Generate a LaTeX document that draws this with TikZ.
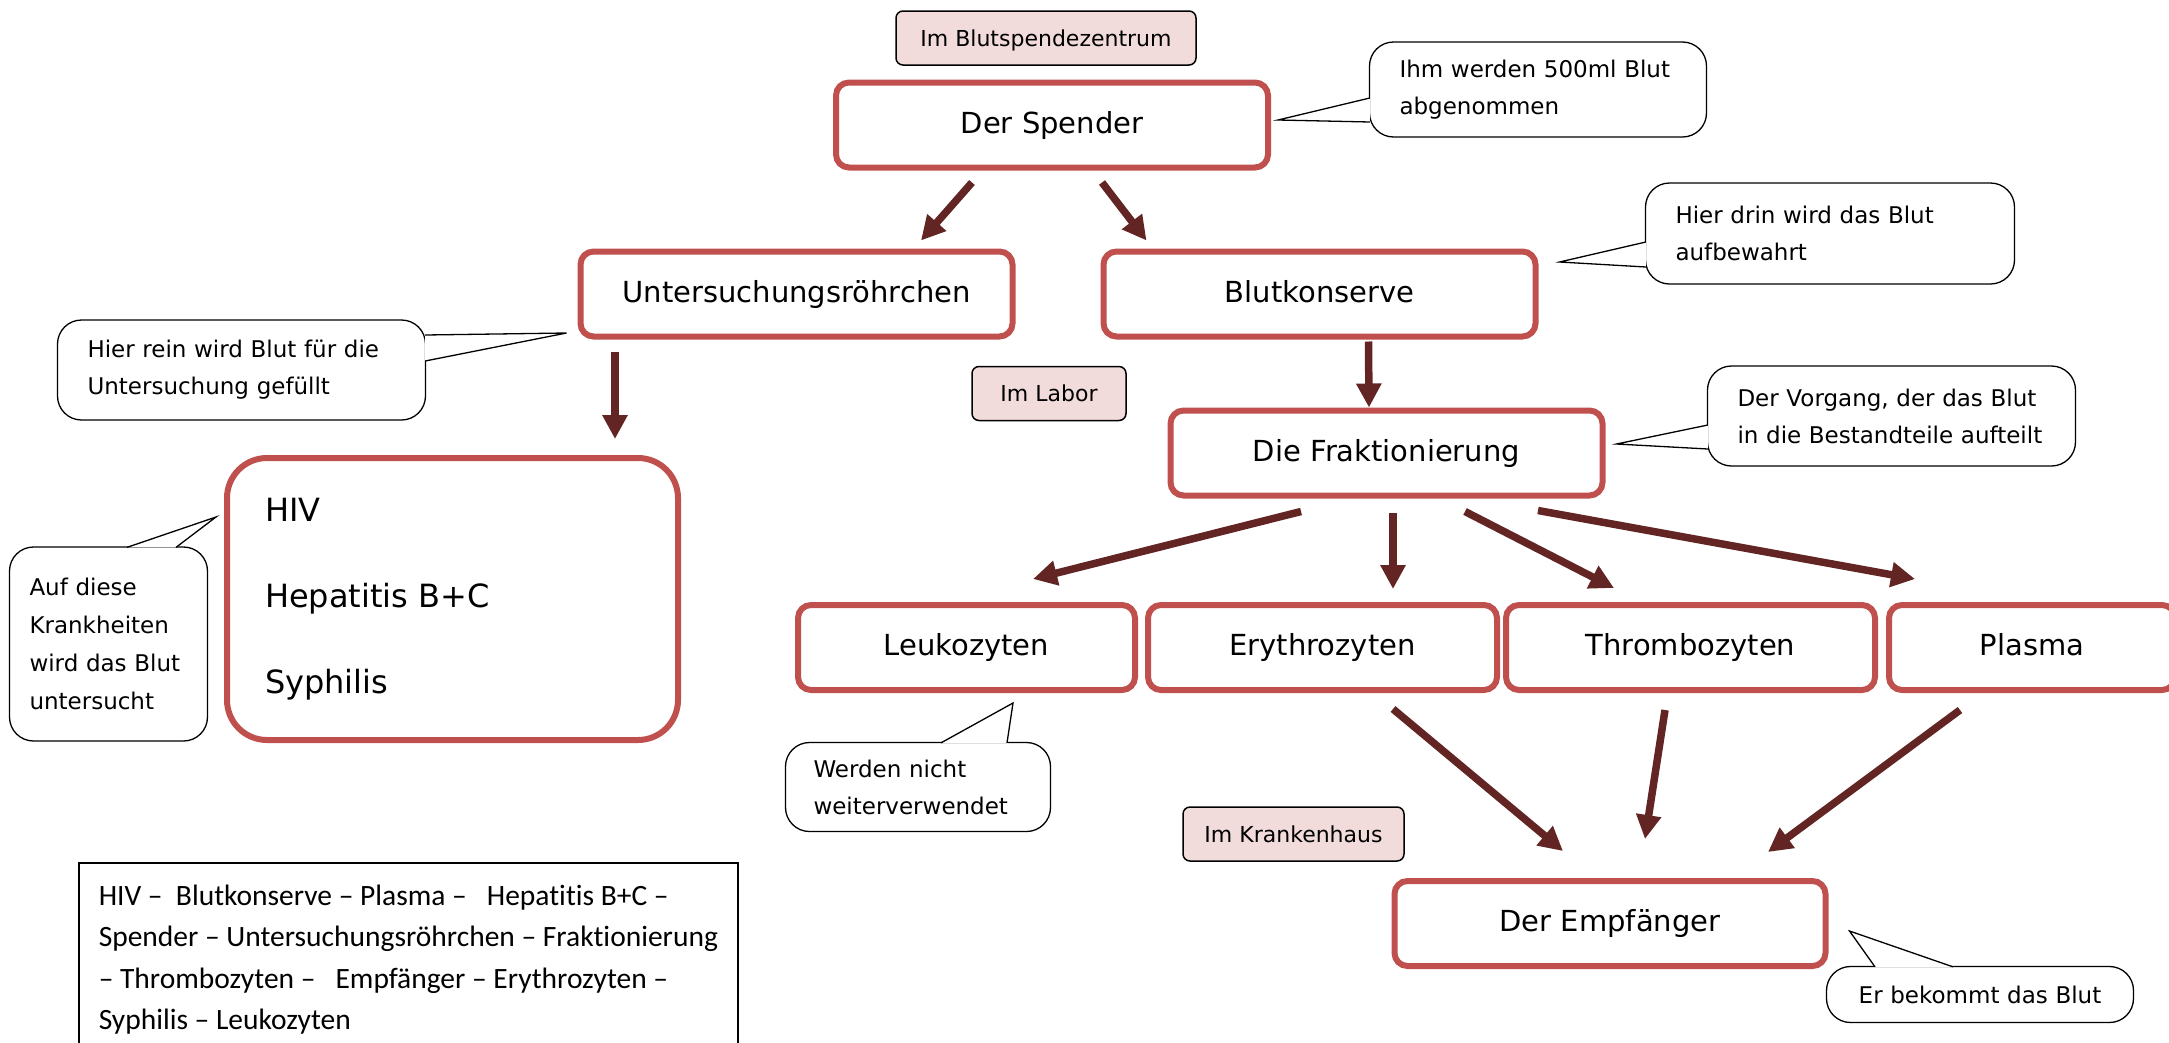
\documentclass[tikz,border=0pt]{standalone}
\usepackage{fontspec}
\setmainfont{DejaVu Sans}
\newfontfamily\listfont[Ligatures=NoCommon]{Carlito}
\usepackage{xcolor}
\usepackage{tikz}
\usetikzlibrary{arrows.meta, positioning, calc}

\definecolor{boxred}{HTML}{C0504D}
\definecolor{arrowred}{HTML}{632523}
\definecolor{placepink}{HTML}{F2DCDB}

\begin{document}
\begin{tikzpicture}[x=1pt, y=-1pt,
    redbox/.style={draw=boxred, line width=6pt, rounded corners=13pt, fill=white},
    stage/.style={redbox, minimum height=85pt, text height=22pt, text depth=6pt, font=\fontsize{29}{35}\selectfont},
    place/.style={draw=black, line width=1.5pt, rounded corners=7pt, fill=placepink, minimum height=54pt, text height=20pt, text depth=4pt, font=\fontsize{22}{26}\selectfont},
    note/.style={draw=black, line width=1.3pt, rounded corners=24pt, fill=white, align=left, inner xsep=30pt, font=\fontsize{23}{37}\selectfont},
    tail/.style={draw=black, line width=1.3pt, fill=white},
    flow/.style={draw=arrowred, line width=7.5pt, -{Triangle[width=24pt, length=24pt]}}]
    \useasboundingbox (0,0) rectangle (2169,1042);

    % Blutspendezentrum
    \node [place, minimum width=300pt] (zentrum) at (1046,38) {Im Blutspendezentrum};
    \node [stage, minimum width=432pt] (spender) at (1052,125) {Der Spender};
    \node [note, text width=277pt, minimum height=95pt] (c500) at (1538,89.5) {Ihm werden 500ml Blut\\abgenommen};

    % Untersuchung
    \node [stage, minimum width=432pt] (unters) at (796.5,294) {Untersuchungsröhrchen};
    \node [stage, minimum width=432pt, right=85pt of unters] (blutk) {Blutkonserve};
    \node [note, text width=308pt, minimum height=100pt] (crein) at (241.5,370) {Hier rein wird Blut für die\\Untersuchung gefüllt};
    \node [redbox, minimum width=451pt, minimum height=282pt, rounded corners=40pt, align=left, text width=375pt, inner xsep=38pt, font=\fontsize{32}{86}\selectfont] (krank) at (452.5,599) {HIV\\Hepatitis B+C\\Syphilis};
    \node [note, text width=158pt, inner xsep=20pt, minimum height=194pt, font=\fontsize{23}{38}\selectfont] (cauf) at (108.5,644) {Auf diese\\Krankheiten\\wird das Blut\\untersucht};

    % Labor
    \node [place, minimum width=154pt] (labor) at (1049,393.5) {Im Labor};
    \node [note, text width=309pt, minimum height=101pt] (cblut) at (1830,233.5) {Hier drin wird das Blut\\aufbewahrt};
    \node [stage, minimum width=432pt] (frakt) at (1386.5,453) {Die Fraktionierung};
    \node [note, text width=308pt, minimum height=100pt] (cvorgang) at (1891.5,416) {Der Vorgang, der das Blut\\in die Bestandteile aufteilt};

    % Bestandteile
    \node [stage, minimum width=337pt] (leuko) at (966.5,647.5) {Leukozyten};
    \node [stage, minimum width=349pt, right=7pt of leuko] (eryth) {Erythrozyten};
    \node [stage, minimum width=369pt, right=3pt of eryth] (thromb) {Thrombozyten};
    \node [stage, minimum width=286pt, right=8pt of thromb] (plasma) {Plasma};
    \node [note, text width=209pt, inner xsep=28pt, minimum height=89pt] (cwerden) at (918,787) {Werden nicht\\weiterverwendet};

    % Krankenhaus
    \node [place, minimum width=221pt] (kranken) at (1293.5,834) {Im Krankenhaus};
    \node [stage, minimum width=431pt] (empf) at (1610,923.5) {Der Empfänger};
    \node [note, text width=247pt, minimum height=56pt, align=center] (cbekommt) at (1980,994.5) {Er bekommt das Blut};

    % Wortliste
    \node [draw=black, line width=1.5pt, anchor=north west, minimum width=658pt, inner xsep=20pt, inner ysep=22pt, align=left, font=\listfont\fontsize{29.5}{41.5}\selectfont] (wortliste) at (78,862) {HIV –\ \ Blutkonserve – Plasma –\ \ \ Hepatitis B+C –\\Spender – Untersuchungsröhrchen – Fraktionierung\\– Thrombozyten –\ \ \ Empfänger – Erythrozyten –\\Syphilis – Leukozyten};

    % Pfeile
    \draw[flow] ($(spender.south)+(-80,12)$) -- ($(unters.north)+(124.5,-8)$);
    \draw[flow] ($(spender.south)+(50,12)$) -- ($(blutk.north)+(-173,-8)$);
    \draw[flow] ($(unters.south)+(-181.5,12)$) -- ($(krank.north)+(162.5,-16)$);
    \draw[flow] ($(blutk.south)+(49,2)$) -- ($(frakt.north)+(-17.5,0)$);
    \draw[flow] ($(frakt.south)+(-85.5,13)$) -- ($(leuko.north)+(66.5,-23)$);
    \draw[flow] ($(frakt.south)+(6.5,14)$) -- ($(eryth.north)+(70.5,-13)$);
    \draw[flow] ($(frakt.south)+(78.5,13)$) -- ($(thromb.north)+(-76.5,-14)$);
    \draw[flow] ($(frakt.south)+(151.5,12)$) -- ($(plasma.north)+(-117,-23)$);
    \draw[flow] ($(eryth.south)+(70.5,16)$) -- ($(empf.north)+(-47,-27)$);
    \draw[flow] ($(thromb.south)+(-25.5,17)$) -- ($(empf.north)+(35,-39)$);
    \draw[flow] ($(plasma.south)+(-72,17)$) -- ($(empf.north)+(158,-26)$);

    % Sprechblasen
    \draw[tail] ($(c500.west)+(1,8.5)$) -- ($(spender.east)+(7,-5)$) -- ($(c500.west)+(1,32.5)$);
    \draw[tail] ($(cblut.west)+(1,8.5)$) -- ($(blutk.east)+(21,-32)$) -- ($(cblut.west)+(1,33.5)$);
    \draw[tail] ($(cvorgang.west)+(1,9)$) -- ($(frakt.east)+(11,-9)$) -- ($(cvorgang.west)+(1,33)$);
    \draw[tail] ($(crein.east)+(-1,-35)$) -- ($(unters.west)+(-11,39)$) -- ($(crein.east)+(-1,-9)$);
    \draw[tail] ($(cauf.north)+(18.5,1)$) -- ($(krank.west)+(-8,-82)$) -- ($(cauf.north)+(67.5,1)$);
    \draw[tail] ($(cwerden.north)+(23,1)$) -- ($(leuko.south)+(46.5,10)$) -- ($(cwerden.north)+(89,1)$);
    \draw[tail] ($(cbekommt.north)+(-105,1)$) -- ($(empf.east)+(21,7.5)$) -- ($(cbekommt.north)+(-27,1)$);
\end{tikzpicture}
\end{document}
